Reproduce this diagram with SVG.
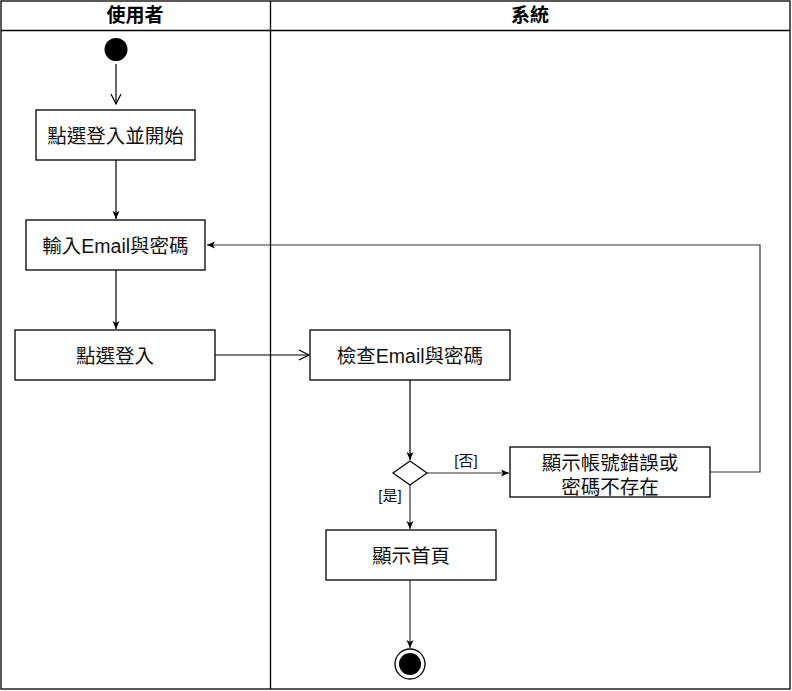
<svg xmlns="http://www.w3.org/2000/svg" width="792" height="691" viewBox="0 0 792 691">
<style>
.box{fill:#fff;stroke:#000;stroke-width:1.3}
.lane{fill:none;stroke:#000;stroke-width:1.3}
.t{font-family:"Liberation Sans","Noto Sans CJK TC",sans-serif;font-size:19.5px;fill:#111;text-anchor:middle}
.h{font-family:"Liberation Sans","Noto Sans CJK TC",sans-serif;font-size:19px;font-weight:bold;fill:#000;text-anchor:middle}
.lbl{font-family:"Liberation Sans","Noto Sans CJK TC",sans-serif;font-size:15px;fill:#111;text-anchor:middle}
.c{fill:none;stroke:#000;stroke-width:1.2}
.g{stroke:#333}
</style>
<defs>
<marker id="fill" markerWidth="10" markerHeight="10" refX="9" refY="5" orient="auto" markerUnits="userSpaceOnUse"><path d="M1,1.5 L9,5 L1,8.5 L3,5 Z" fill="#000"/></marker>
<marker id="open" markerWidth="14" markerHeight="14" refX="12" refY="7" orient="auto" markerUnits="userSpaceOnUse"><path d="M2,2 L12,7 L2,12" fill="none" stroke="#000" stroke-width="1.2"/></marker>
</defs>
<rect width="792" height="691" fill="#fff"/>
<g id="lanes">
<rect class="lane" x="1" y="1" width="789" height="688"/>
<line class="lane" x1="1" y1="30.5" x2="790" y2="30.5"/>
<line class="lane" x1="270.5" y1="1" x2="270.5" y2="689"/>
<text class="h" x="135" y="22">使用者</text>
<text class="h" x="530" y="22">系統</text>
</g>
<g id="connectors">
<line class="c" x1="116" y1="64" x2="116" y2="104" marker-end="url(#open)"/>
<line class="c" x1="116" y1="160" x2="116" y2="219" marker-end="url(#fill)"/>
<line class="c" x1="116" y1="270" x2="116" y2="329" marker-end="url(#fill)"/>
<line class="c" x1="215" y1="355" x2="309" y2="355" marker-end="url(#open)"/>
<line class="c" x1="410" y1="380" x2="410" y2="460" marker-end="url(#fill)"/>
<line class="c g" x1="427" y1="473" x2="509" y2="473" marker-end="url(#fill)"/>
<text class="lbl" x="466" y="466">[否]</text>
<polyline class="c g" points="710,472 760,472 760,245 207,245" marker-end="url(#fill)"/>
<line class="c g" x1="410" y1="485" x2="410" y2="529" marker-end="url(#fill)"/>
<text class="lbl" x="390" y="501">[是]</text>
<line class="c g" x1="410" y1="580" x2="410" y2="648" marker-end="url(#fill)"/>
</g>
<g id="start"><circle cx="116" cy="49.5" r="11.5" fill="#000"/></g>
<g id="n1"><rect class="box" x="36" y="110" width="159" height="50"/><text class="t" x="115.5" y="142.5">點選登入並開始</text></g>
<g id="n2"><rect class="box" x="26" y="220" width="179" height="50"/><text class="t" x="115.5" y="252.5">輸入Email與密碼</text></g>
<g id="n3"><rect class="box" x="15" y="330" width="200" height="50"/><text class="t" x="115" y="362.5">點選登入</text></g>
<g id="n4"><rect class="box" x="310" y="330" width="200" height="50"/><text class="t" x="410" y="362.5">檢查Email與密碼</text></g>
<g id="decision"><polygon points="410,461 427,473 410,485 393,473" fill="#fff" stroke="#000" stroke-width="1.2"/></g>
<g id="n5"><rect class="box" x="510" y="447" width="200" height="50"/><text class="t" x="610" y="470">顯示帳號錯誤或</text><text class="t" x="610" y="494">密碼不存在</text></g>
<g id="n6"><rect class="box" x="326" y="530" width="170" height="50"/><text class="t" x="411" y="562.5">顯示首頁</text></g>
<g id="end"><circle cx="410" cy="664" r="15" fill="#fff" stroke="#000" stroke-width="1.3"/><circle cx="410" cy="664" r="11" fill="#000"/></g>
</svg>
